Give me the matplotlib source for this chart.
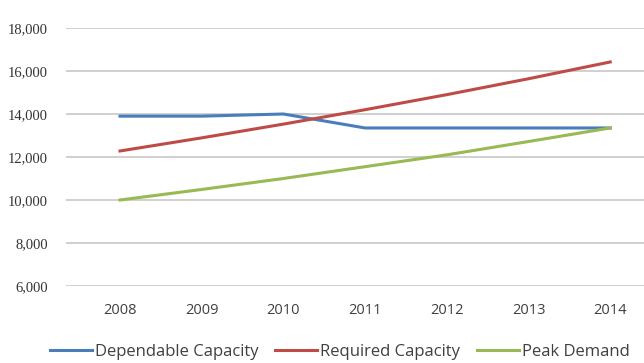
import matplotlib.pyplot as plt
from matplotlib.ticker import FuncFormatter

# valores
years = [2008, 2009, 2010, 2011, 2012, 2013, 2014]
dependable = [13900, 13900, 14000, 13350, 13350, 13350, 13350]
required = [12280, 12890, 13530, 14200, 14900, 15640, 16420]
peak = [10000, 10490, 11000, 11550, 12100, 12720, 13350]

fig = plt.figure(figsize=(6.44, 3.63), dpi=100)
# área do gráfico (passa da borda direita)
ax = fig.add_axes([66 / 644, 1 - 286 / 363, (644 - 66) / 644, (286 - 28) / 363])

ax.plot(years, dependable, color='#4a7ebb', lw=2.2, label='Dependable Capacity')
ax.plot(years, required, color='#be4b48', lw=2.2, label='Required Capacity')
ax.plot(years, peak, color='#98b954', lw=2.2, label='Peak Demand')

ax.set_ylim(6000, 18000)
ax.set_yticks(range(6000, 18001, 2000))
ax.set_xlim(2008 - 54 / 81.7, 2008 + (644 - 120) / 81.7)
ax.set_xticks(years)
ax.yaxis.set_major_formatter(FuncFormatter(lambda v, p: f"{int(v):,}"))
ax.grid(axis='y', color='#c8c8c8', lw=1.2)
ax.set_axisbelow(True)
for s in ax.spines.values():
    s.set_visible(False)
ax.tick_params(length=0)
ax.tick_params(axis='y', pad=13, labelsize=10.5, labelcolor='#333333',
               labelfontfamily='Liberation Serif')
ax.tick_params(axis='x', pad=12, labelsize=10.5, labelcolor='#404040',
               labelfontfamily='Open Sans')

fig.legend(loc='center', bbox_to_anchor=(340 / 644, 1 - 352 / 363), ncol=3, frameon=False,
           prop={'family': 'Open Sans', 'size': 12}, handlelength=2.5, handletextpad=0.2,
           columnspacing=1.0, labelcolor='#404040')

fig.savefig('out.png', dpi=100)
